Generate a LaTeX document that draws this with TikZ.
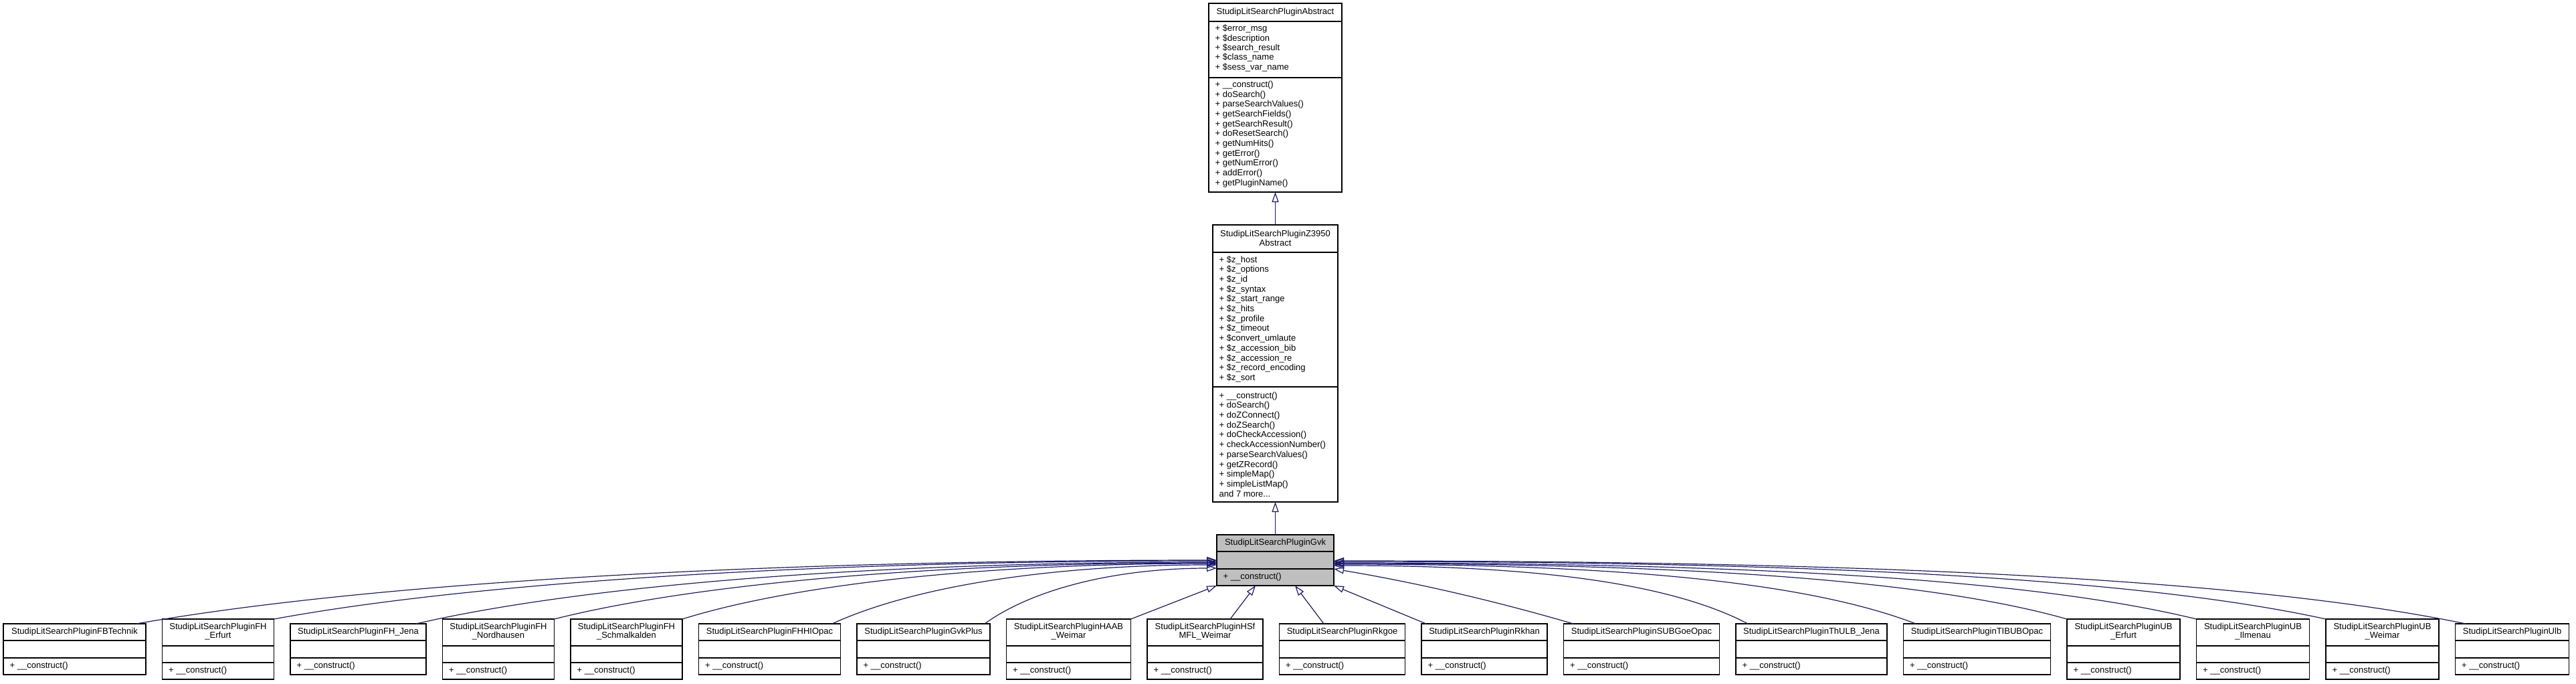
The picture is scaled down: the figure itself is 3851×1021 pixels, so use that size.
\documentclass[tikz,border=0pt]{standalone}
\usepackage{fontspec}
\setmainfont{Liberation Sans}
\usetikzlibrary{arrows.meta}
\definecolor{edgeblue}{HTML}{191970}
\definecolor{gvkgray}{HTML}{BFBFBF}
\tikzset{
  clsframe/.style={draw=black, line width=1.2pt, inner sep=0pt, outer sep=0pt, anchor=north west},
  sepline/.style={draw=black, line width=1.2pt},
  ttl/.style={font=\fontsize{13}{13.3}\selectfont, align=center, inner sep=0pt},
  mem/.style={font=\fontsize{13}{14.7}\selectfont, align=left, inner sep=0pt, anchor=west},
  inh/.style={draw=edgeblue, line width=1.2pt, -{Triangle[open, length=15pt, width=10pt]}},
}
\newcommand\clsbox[8]{%
  \node[clsframe, fill=#8, minimum width=#4pt, minimum height=#5pt] (#1) at (#2,#3) {};
  \draw[sepline] ([yshift=-#6pt]#1.north west) -- ([yshift=-#6pt]#1.north east);
  \draw[sepline] ([yshift=-#7pt]#1.north west) -- ([yshift=-#7pt]#1.north east);
}
\newcommand\oneline[4]{%
  \clsbox{#1}{#2}{932}{#3}{76}{25}{51}{white}
  \node[ttl] (#1-t) at ([yshift=-12.5pt]#1.north) {#4};
  \node[mem] (#1-m) at ([xshift=9.5pt,yshift=-63pt]#1.north west) {+ \_\_construct()};
}
\newcommand\twoline[5]{%
  \clsbox{#1}{#2}{925}{#3}{90}{40}{65}{white}
  \node[ttl] (#1-t) at ([yshift=-18.5pt]#1.north) {#4\\#5};
  \node[mem] (#1-m) at ([xshift=9.5pt,yshift=-77pt]#1.north west) {+ \_\_construct()};
}
\begin{document}
\begin{tikzpicture}[x=1pt,y=-1pt]
\useasboundingbox (0,0) rectangle (3851,1021);

% --- StudipLitSearchPluginAbstract
\clsbox{abs}{1807}{5}{199}{282}{27}{111}{white}
\node[ttl] (abs-t) at ([yshift=-13.5pt]abs.north) {StudipLitSearchPluginAbstract};
\node[mem, font=\fontsize{13}{14.35}\selectfont] (abs-a) at ([xshift=9.5pt,yshift=-67pt]abs.north west)
  {+ \$error\_msg\\+ \$description\\+ \$search\_result\\+ \$class\_name\\+ \$sess\_var\_name};
\node[mem] (abs-m) at ([xshift=9.5pt,yshift=-195.5pt]abs.north west)
  {+ \_\_construct()\\+ doSearch()\\+ parseSearchValues()\\+ getSearchFields()\\+ getSearchResult()\\+ doResetSearch()\\+ getNumHits()\\+ getError()\\+ getNumError()\\+ addError()\\+ getPluginName()};

% --- StudipLitSearchPluginZ3950Abstract
\clsbox{z39}{1813}{336}{187}{414}{41}{242}{white}
\node[ttl] (z39-t) at ([yshift=-19.7pt]z39.north) {StudipLitSearchPluginZ3950\\Abstract};
\node[mem] (z39-a) at ([xshift=9.5pt,yshift=-140.7pt]z39.north west)
  {+ \$z\_host\\+ \$z\_options\\+ \$z\_id\\+ \$z\_syntax\\+ \$z\_start\_range\\+ \$z\_hits\\+ \$z\_profile\\+ \$z\_timeout\\+ \$convert\_umlaute\\+ \$z\_accession\_bib\\+ \$z\_accession\_re\\+ \$z\_record\_encoding\\+ \$z\_sort};
\node[mem] (z39-m) at ([xshift=9.5pt,yshift=-328pt]z39.north west)
  {+ \_\_construct()\\+ doSearch()\\+ doZConnect()\\+ doZSearch()\\+ doCheckAccession()\\+ checkAccessionNumber()\\+ parseSearchValues()\\+ getZRecord()\\+ simpleMap()\\+ simpleListMap()\\and 7 more...};

% --- StudipLitSearchPluginGvk
\clsbox{gvk}{1819}{799}{175}{76}{25}{51}{gvkgray}
\node[ttl] (gvk-t) at ([yshift=-12.5pt]gvk.north) {StudipLitSearchPluginGvk};
\node[mem] (gvk-m) at ([xshift=9.5pt,yshift=-63pt]gvk.north west) {+ \_\_construct()};

% --- children
\oneline{fbt}{5}{213}{StudipLitSearchPluginFBTechnik}
\twoline{fhe}{242.5}{167}{StudipLitSearchPluginFH}{\_Erfurt}
\oneline{fhj}{434}{203}{StudipLitSearchPluginFH\_Jena}
\twoline{fhn}{661.5}{167}{StudipLitSearchPluginFH}{\_Nordhausen}
\twoline{fhs}{853}{167}{StudipLitSearchPluginFH}{\_Schmalkalden}
\oneline{fhhi}{1044.5}{212}{StudipLitSearchPluginFHHIOpac}
\oneline{gvkp}{1281}{199}{StudipLitSearchPluginGvkPlus}
\twoline{haab}{1504.5}{186}{StudipLitSearchPluginHAAB}{\_Weimar}
\twoline{hsf}{1715}{173}{StudipLitSearchPluginHSf}{MFL\_Weimar}
\oneline{rkgoe}{1912.5}{188}{StudipLitSearchPluginRkgoe}
\oneline{rkhan}{2125}{188}{StudipLitSearchPluginRkhan}
\oneline{sub}{2337.5}{233}{StudipLitSearchPluginSUBGoeOpac}
\oneline{thulb}{2595}{226}{StudipLitSearchPluginThULB\_Jena}
\oneline{tib}{2845.5}{220}{StudipLitSearchPluginTIBUBOpac}
\twoline{ube}{3090}{169}{StudipLitSearchPluginUB}{\_Erfurt}
\twoline{ubi}{3283.5}{169}{StudipLitSearchPluginUB}{\_Ilmenau}
\twoline{ubw}{3477}{169}{StudipLitSearchPluginUB}{\_Weimar}
\oneline{ulb}{3670.5}{170}{StudipLitSearchPluginUlb}

% --- inheritance edges
\draw[inh] (z39.north) -- (abs.south);
\draw[inh] (gvk.north) -- (z39.south);

\draw[inh] ([xshift=199pt]fbt.north west) .. controls +(323,-57) and +(-727,0) .. ([yshift=-38pt]gvk.north west);
\draw[inh] (fhe.north east) .. controls +(282,-52) and +(-634,0) .. ([yshift=-39pt]gvk.north west);
\draw[inh] ([xshift=188pt]fhj.north west) .. controls +(239,-55) and +(-539,0) .. ([yshift=-41pt]gvk.north west);
\draw[inh] (fhn.north east) .. controls +(198,-50) and +(-446,0) .. ([yshift=-42pt]gvk.north west);
\draw[inh] (fhs.north east) .. controls +(160,-50) and +(-360,0) .. ([yshift=-43pt]gvk.north west);
\draw[inh] ([xshift=199.5pt]fhhi.north west) .. controls +(115,-53) and +(-259,0) .. ([yshift=-45pt]gvk.north west);
\draw[inh] ([xshift=191pt]gvkp.north west) .. controls +(69,-50) and +(-156,0) .. ([yshift=-50pt]gvk.north west);
\draw[inh] (haab.north east) -- (gvk.south west);
\draw[inh] ([xshift=124pt]hsf.north west) -- ([xshift=58pt]gvk.south west);
\draw[inh] ([xshift=66.5pt]rkgoe.north west) -- ([xshift=117pt]gvk.south west);
\draw[inh] ([xshift=7pt]rkhan.north west) -- (gvk.south east);
\draw[inh] ([xshift=14.5pt]sub.north west) .. controls +(-120,-35) and +(120,20) .. ([yshift=-51pt]gvk.north east);
\draw[inh] ([xshift=18pt]thulb.north west) .. controls +(-124,-65) and +(279,0) .. ([yshift=-46pt]gvk.north east);
\draw[inh] ([xshift=18.5pt]tib.north west) .. controls +(-174,-67) and +(392,0) .. ([yshift=-44pt]gvk.north east);
\draw[inh] (ube.north west) .. controls +(-219,-62) and +(493,0) .. ([yshift=-43pt]gvk.north east);
\draw[inh] (ubi.north west) .. controls +(-258,-63) and +(580,0) .. ([yshift=-42pt]gvk.north east);
\draw[inh] (ubw.north west) .. controls +(-297,-65) and +(667,0) .. ([yshift=-40pt]gvk.north east);
\draw[inh] ([xshift=15.5pt]ulb.north west) .. controls +(-338,-70) and +(761,0) .. ([yshift=-39pt]gvk.north east);
\end{tikzpicture}
\end{document}
